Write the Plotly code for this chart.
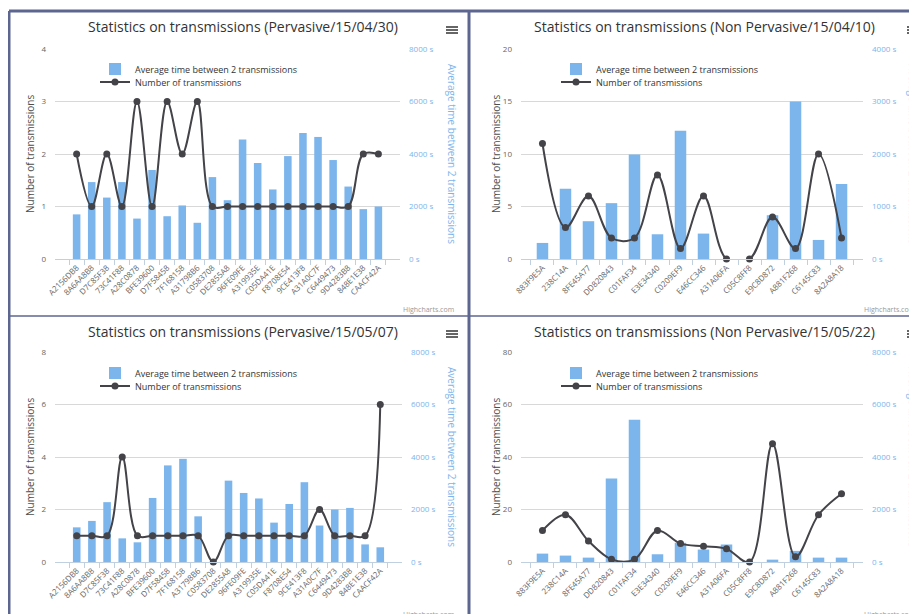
import plotly.graph_objects as go

# the page body keeps its 8px margin, so the figure is drawn 8px in
OFF = 8
W, H = 917 - OFF, 614 - OFF
BAR_COLOR = "#7cb5ec"
LINE_COLOR = "#434348"
GRID_COLOR = "#D8D8D8"
AXIS_COLOR = "#C0D0E0"
FRAME_COLOR = "#5c6690"
FONT = "Open Sans, DejaVu Sans, sans-serif"

BAR_NAME = "Average time between 2 transmissions"
LINE_NAME = "Number of transmissions"

# nodes seen in the pervasive runs
nodes_pervasive = [
    "A2156DB8", "8A6AA8B8", "D7C85F38", "73C41F88", "A28C0878", "BFE39600",
    "D7F58458", "7F168158", "A31798B6", "C0583708", "DE2855A8", "96FE09FE",
    "A319935E", "C05DA41E", "F8708E54", "9CE413F8", "A31A0C7F", "C6449473",
    "9D4283B8", "848E1E38", "CAACF42A",
]
# nodes seen in the non pervasive runs
nodes_non_pervasive = [
    "883F9E5A", "238C14A", "8FE45A77", "DD820843", "C01FAF34", "E3E34340",
    "C0209EF9", "E46CC346", "A31A06FA", "C05C8FF8", "E9C8D872", "A881F268",
    "C6145C83", "8A2A8A18",
]

# Pervasive 15/04/30
time_150430 = [1700, 2930, 2340, 2930, 1540, 3390, 1630, 2040, 1380, 3120, 2240,
               4550, 3660, 2650, 3920, 4800, 4650, 3770, 2760, 1900, 2000]
count_150430 = [2, 1, 2, 1, 3, 1, 3, 2, 3, 1, 1, 1, 1, 1, 1, 1, 1, 1, 1, 2, 2]

# Non Pervasive 15/04/10
time_150410 = [306, 1338, 720, 1064, 1990, 471, 2444, 484, 0, 0, 834, 3000, 363, 1427]
count_150410 = [11, 3, 6, 2, 2, 8, 1, 6, 0, 0, 4, 1, 10, 2]

# Pervasive 15/05/07
time_150507 = [1320, 1565, 2280, 900, 750, 2440, 3680, 3930, 1740, 0, 3100,
               2630, 2420, 1500, 2210, 3040, 1390, 2000, 2060, 670, 560]
count_150507 = [1, 1, 1, 4, 1, 1, 1, 1, 1, 0, 1, 1, 1, 1, 1, 1, 2, 1, 1, 1, 6]

# Non Pervasive 15/05/22
time_150522 = [320, 244, 167, 3180, 5420, 295, 731, 474, 667, 0, 90, 423, 167, 167]
count_150522 = [12, 18, 8, 1, 1, 12, 7, 6, 5, 0, 45, 2, 18, 26]

panels = [
    dict(title="Statistics on transmissions (Pervasive/15/04/30)", cats=nodes_pervasive,
         times=time_150430, counts=count_150430, lmax=4, ldt=1, rmax=8000, rdt=2000,
         box=(55, 400, 49, 259), ox=0, oy=0),
    dict(title="Statistics on transmissions (Non Pervasive/15/04/10)", cats=nodes_non_pervasive,
         times=time_150410, counts=count_150410, lmax=20, ldt=5, rmax=4000, rdt=1000,
         box=(521, 863, 49, 259), ox=461, oy=0),
    dict(title="Statistics on transmissions (Pervasive/15/05/07)", cats=nodes_pervasive,
         times=time_150507, counts=count_150507, lmax=8, ldt=2, rmax=8000, rdt=2000,
         box=(55, 402, 352, 562), ox=0, oy=304),
    dict(title="Statistics on transmissions (Non Pervasive/15/05/22)", cats=nodes_non_pervasive,
         times=time_150522, counts=count_150522, lmax=80, ldt=20, rmax=8000, rdt=2000,
         box=(521, 863, 352, 562), ox=461, oy=304),
]


def fx(x):
    return (x - OFF) / W


def fy(y):
    return 1 - (y - OFF) / H


fig = go.Figure()
layout = {}
annotations = []
shapes = []

for i, p in enumerate(panels):
    n = i + 1
    xname = "x" if n == 1 else f"x{n}"
    yl = 2 * i + 1
    yr = 2 * i + 2
    ylname = "y" if yl == 1 else f"y{yl}"
    yrname = f"y{yr}"
    # one legend per entry so the two rows sit close like the original
    leg_bar = "legend" if n == 1 else f"legend{n}"
    leg_line = f"legend{n + 4}"
    x0, x1, y0, y1 = p["box"]
    ox, oy = p["ox"], p["oy"]

    fig.add_trace(go.Bar(
        x=p["cats"], y=p["times"], name=BAR_NAME, xaxis=xname, yaxis=yrname,
        marker=dict(color=BAR_COLOR, line=dict(width=0)), legend=leg_bar,
    ))
    fig.add_trace(go.Scatter(
        x=p["cats"], y=p["counts"], name=LINE_NAME, xaxis=xname, yaxis=ylname,
        mode="lines+markers", line=dict(color=LINE_COLOR, width=2, shape="spline"),
        marker=dict(color=LINE_COLOR, size=7), cliponaxis=False, legend=leg_line,
    ))

    layout["xaxis" if n == 1 else f"xaxis{n}"] = dict(
        domain=[fx(x0), fx(x1)], anchor=yrname, type="category",
        tickangle=-45, tickfont=dict(size=8, color="#666666"),
        showline=True, linecolor=AXIS_COLOR, linewidth=1,
        ticks="outside", tickson="boundaries", ticklen=5, tickcolor=AXIS_COLOR,
        showgrid=False, zeroline=False, automargin=False, fixedrange=True,
    )
    layout[f"yaxis{yr}"] = dict(
        domain=[fy(y1), fy(y0)], anchor=xname, side="right",
        range=[0, p["rmax"]], dtick=p["rdt"], ticksuffix=" s",
        tickfont=dict(size=8, color=BAR_COLOR), ticklabelstandoff=8,
        showgrid=False, zeroline=False, showline=False, automargin=False,
    )
    layout["yaxis" if yl == 1 else f"yaxis{yl}"] = dict(
        overlaying=yrname, anchor=xname, side="left",
        range=[0, p["lmax"]], dtick=p["ldt"],
        tickfont=dict(size=8, color="#666666"), ticklabelstandoff=8,
        showgrid=True, gridcolor=GRID_COLOR, gridwidth=1,
        zeroline=False, showline=False, automargin=False,
    )
    for leg, row_y in ((leg_bar, 69), (leg_line, 82)):
        layout[leg] = dict(
            x=fx(ox + 95), y=fy(oy + row_y), xanchor="left", yanchor="middle",
            bgcolor="rgba(0,0,0,0)", font=dict(size=9, color="#333333", family=FONT),
            itemwidth=30, borderwidth=0,
        )

    # title, axis titles, credit
    annotations.append(dict(
        text=p["title"], x=fx(ox + 243), y=fy(oy + 27), xref="paper", yref="paper",
        showarrow=False, font=dict(size=14, color="#333333", family=FONT),
        xanchor="center", yanchor="middle",
    ))
    annotations.append(dict(
        text=LINE_NAME, x=fx(x0 - 25), y=fy((y0 + y1) / 2), xref="paper", yref="paper",
        showarrow=False, textangle=-90, font=dict(size=10, color="#4d4d4d", family=FONT),
        xanchor="center", yanchor="middle",
    ))
    annotations.append(dict(
        text=BAR_NAME, x=fx(ox + 452), y=fy((y0 + y1) / 2), xref="paper", yref="paper",
        showarrow=False, textangle=90, font=dict(size=10, color=BAR_COLOR, family=FONT),
        xanchor="center", yanchor="middle",
    ))
    annotations.append(dict(
        text="Highcharts.com", x=fx(ox + 456), y=fy(oy + 310), xref="paper", yref="paper",
        showarrow=False, font=dict(size=7, color="#999999", family=FONT),
        xanchor="right", yanchor="middle",
    ))
    # export menu icon
    for k in range(3):
        yy = oy + 27 + 3 * k
        shapes.append(dict(
            type="line", xref="paper", yref="paper",
            x0=fx(ox + 446), x1=fx(ox + 458), y0=fy(yy), y1=fy(yy),
            line=dict(color="#666666", width=2),
        ))

# frame around the four charts
frame = [
    (9, 11, 917, 11, 3),
    (9, 11, 9, 614, 3),
    (469, 11, 469, 614, 3),
    (9, 316, 917, 316, 1.5),
]
for a, b, c, d, w in frame:
    shapes.append(dict(
        type="line", xref="paper", yref="paper",
        x0=fx(a), y0=fy(b), x1=fx(c), y1=fy(d),
        line=dict(color=FRAME_COLOR, width=w),
    ))

fig.update_layout(
    width=W, height=H,
    margin=dict(l=0, r=0, t=0, b=0),
    paper_bgcolor="white", plot_bgcolor="white",
    font=dict(family=FONT, color="#666666"),
    bargap=0.5,
    showlegend=True,
    annotations=annotations,
    shapes=shapes,
    **layout,
)

fig.write_html("out.html")
